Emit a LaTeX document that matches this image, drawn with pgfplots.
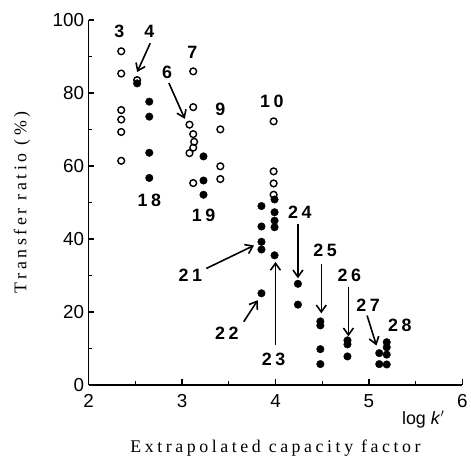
\documentclass[border=0pt]{standalone}
\usepackage{fontspec}
\setmainfont{Liberation Serif}
\setsansfont{Liberation Sans}
\newfontfamily\lblfont[LetterSpace=20]{Liberation Sans}
\newfontfamily\axfont[LetterSpace=20]{Liberation Serif}
\usepackage{pgfplots}
\pgfplotsset{compat=1.18}
\usetikzlibrary{arrows.meta}

\tikzset{
  lbl/.style={font=\lblfont\bfseries\fontsize{18}{18}\selectfont, inner sep=0pt},
  arr/.style={line width=1.6bp, -{Straight Barb[length=7bp,width=10bp,line width=1.6bp]}},
}

\begin{document}
\begin{tikzpicture}
\begin{axis}[
  scale only axis,
  width=376bp, height=367bp,
  xmin=2, xmax=6, ymin=0, ymax=100,
  axis x line*=bottom, axis y line*=left,
  xtick={2,3,4,5,6}, minor xtick={2.5,3.5,4.5,5.5},
  ytick={0,20,40,60,80,100}, minor ytick={10,30,50,70,90},
  tick align=inside,
  major tick length=6bp, minor tick length=3.5bp,
  axis line style={line width=1.6bp},
  every tick/.style={black, line width=1.3bp},
  /pgf/number format/assume math mode=true,
  ticklabel style={font=\sffamily\fontsize{19}{19}\selectfont},
  xticklabel style={yshift=-6bp},
  yticklabel style={xshift=-1bp},
  xlabel={\axfont\fontsize{18}{18}\selectfont Extrapolated capacity factor},
  ylabel={\axfont\fontsize{18}{18}\selectfont Transfer ratio (\%)},
  xlabel style={at={(axis description cs:0.5,-0.172)}, anchor=center},
  ylabel style={at={(axis description cs:-0.178,0.5)}, anchor=center},
  clip=false,
]
\path (axis description cs:-0.2367,-0.229) rectangle (axis description cs:1.0133,1.0545);

% open circles
\addplot[only marks, mark=o, mark size=3.4bp, mark options={line width=1.4bp, black}]
  coordinates {
  (2.35,91.4) (2.35,85.3) (2.35,75.3) (2.35,72.7) (2.35,69.3) (2.35,61.4)
  (2.52,83.5)
  (3.12,85.9) (3.12,76.1) (3.08,71.3) (3.12,68.7) (3.13,66.6) (3.12,65.0) (3.08,63.5) (3.12,55.3)
  (3.41,70.0) (3.41,59.9) (3.41,56.4)
  (3.98,72.2) (3.98,58.5) (3.98,55.2) (3.98,52.1)
  };

% filled circles
\addplot[only marks, mark=*, mark size=3.8bp, mark options={black, fill=black}]
  coordinates {
  (2.52,82.6)
  (2.65,77.6) (2.65,73.5) (2.65,63.6) (2.65,56.7)
  (3.23,62.6) (3.23,56.0) (3.23,52.1)
  (3.85,49.0) (3.85,43.4) (3.85,39.2) (3.85,37.1)
  (3.99,50.8) (3.99,47.3) (3.99,45.0) (3.99,43.2) (3.99,35.5)
  (3.85,25.1)
  (4.24,27.7) (4.24,22.0)
  (4.48,17.4) (4.48,16.3) (4.48,9.8) (4.48,5.7)
  (4.77,12.2) (4.77,11.1) (4.77,7.8)
  (5.11,8.7) (5.11,5.7)
  (5.19,11.7) (5.19,10.3) (5.19,8.3) (5.19,5.6)
  };

% group numbers
\node[lbl] at (axis cs:2.33,96.8) {3};
\node[lbl] at (axis cs:2.65,96.8) {4};
\node[lbl] at (axis cs:2.84,85.5) {6};
\node[lbl] at (axis cs:3.11,91.1) {7};
\node[lbl] at (axis cs:3.41,75.5) {9};
\node[lbl] at (axis cs:3.96,77.7) {10};
\node[lbl] at (axis cs:2.65,50.5) {18};
\node[lbl] at (axis cs:3.23,46.4) {19};
\node[lbl] at (axis cs:3.09,30.1) {21};
\node[lbl] at (axis cs:3.48,14.2) {22};
\node[lbl] at (axis cs:3.98,6.9) {23};
\node[lbl] at (axis cs:4.26,47.3) {24};
\node[lbl] at (axis cs:4.53,36.9) {25};
\node[lbl] at (axis cs:4.79,29.9) {26};
\node[lbl] at (axis cs:4.99,21.9) {27};
\node[lbl] at (axis cs:5.33,16.3) {28};

% arrows
\draw[arr] (axis cs:2.66,93.6) -- (axis cs:2.52,85.7);
\draw[arr] (axis cs:2.86,82.7) -- (axis cs:3.03,72.9);
\draw[arr] (axis cs:3.26,31.9) -- (axis cs:3.77,38.2);
\draw[arr] (axis cs:3.66,17.3) -- (axis cs:3.81,23.2);
\draw[arr] (axis cs:4.00,11.0) -- (axis cs:4.00,33.7);
\draw[arr] (axis cs:4.24,44.1) -- (axis cs:4.24,29.2);
\draw[arr] (axis cs:4.49,33.2) -- (axis cs:4.49,19.6);
\draw[arr] (axis cs:4.78,26.9) -- (axis cs:4.78,13.3);
\draw[arr] (axis cs:4.98,19.0) -- (axis cs:5.08,10.8);

\node[font=\sffamily\fontsize{18}{18}\selectfont, anchor=center] at (axis cs:5.58,-9.5) {log \textit{k}$'$};
\end{axis}
\end{tikzpicture}
\end{document}
